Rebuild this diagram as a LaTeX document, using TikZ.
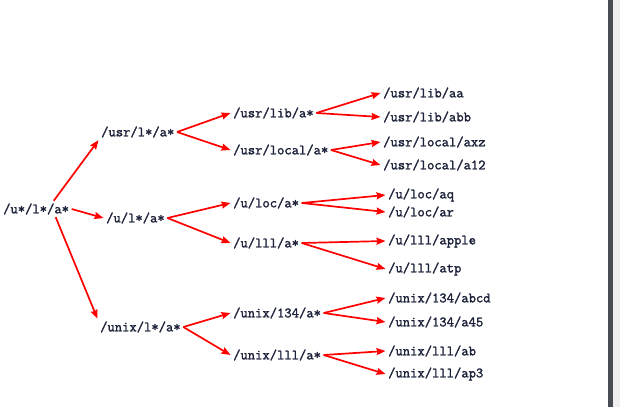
\documentclass[tikz,border=0pt]{standalone}
\usepackage{fontspec}
\setmonofont{Latin Modern Mono}[AutoFakeBold=1.8]
\usetikzlibrary{arrows.meta}
\definecolor{pathtext}{RGB}{28,34,58}
\definecolor{bardark}{RGB}{71,77,82}
\definecolor{barlight}{RGB}{239,239,239}
\begin{document}
\begin{tikzpicture}[x=1pt, y=-1pt, every node/.style={font=\ttfamily\bfseries\fontsize{14.2}{16}\selectfont, text=pathtext, anchor=west, inner sep=2.5pt},
  arr/.style={-{Stealth[length=9pt,width=7pt,inset=1pt]}, red, line width=1.7pt}]
\useasboundingbox (0,0) rectangle (620,407);
\fill[bardark] (608,0) rectangle (613,407); \fill[barlight] (613,0) rectangle (620,407);
% levels 0 and 1
\node (root) at (0.5,209) {/u*/l*/a*};
\node (usr) at (98.5,132) {/usr/l*/a*}; \node (u) at (103.5,218) {/u/l*/a*}; \node (unix) at (97.5,327) {/unix/l*/a*};
% level 2
\node (ulib) at (230.5,113) {/usr/lib/a*}; \node (ulocal) at (230.5,150) {/usr/local/a*};
\node (uloc) at (230.5,203) {/u/loc/a*}; \node (ulll) at (230.5,243) {/u/lll/a*};
\node (x134) at (230.5,313) {/unix/134/a*}; \node (xlll) at (230.5,355) {/unix/lll/a*};
% leaves
\node (laa) at (380.5,93) {/usr/lib/aa}; \node (labb) at (380.5,117) {/usr/lib/abb};
\node (laxz) at (380.5,142) {/usr/local/axz}; \node (la12) at (380.5,165) {/usr/local/a12};
\node (laq) at (385.5,195) {/u/loc/aq}; \node (lar) at (385.5,212) {/u/loc/ar};
\node (lapple) at (385.5,241) {/u/lll/apple}; \node (latp) at (385.5,269) {/u/lll/atp};
\node (labcd) at (385.5,298) {/unix/134/abcd}; \node (la45) at (385.5,322) {/unix/134/a45};
\node (lab) at (385.5,351) {/unix/lll/ab}; \node (lap3) at (385.5,374) {/unix/lll/ap3};
% arrows
\coordinate (rtop) at ([xshift=-18pt]root.north east); \coordinate (rbot) at ([xshift=-16pt]root.south east);
\draw[arr] (rtop) -- (usr.south west); \draw[arr] (root.east) -- (u.west); \draw[arr] (rbot) -- (unix.north west);
\foreach \p/\a/\b in {usr/ulib/ulocal, u/uloc/ulll, unix/x134/xlll, ulib/laa/labb, ulocal/laxz/la12, uloc/laq/lar, ulll/lapple/latp, x134/labcd/la45, xlll/lab/lap3}
  {\draw[arr] (\p.east) -- (\a.west); \draw[arr] (\p.east) -- (\b.west);}
\end{tikzpicture}
\end{document}
